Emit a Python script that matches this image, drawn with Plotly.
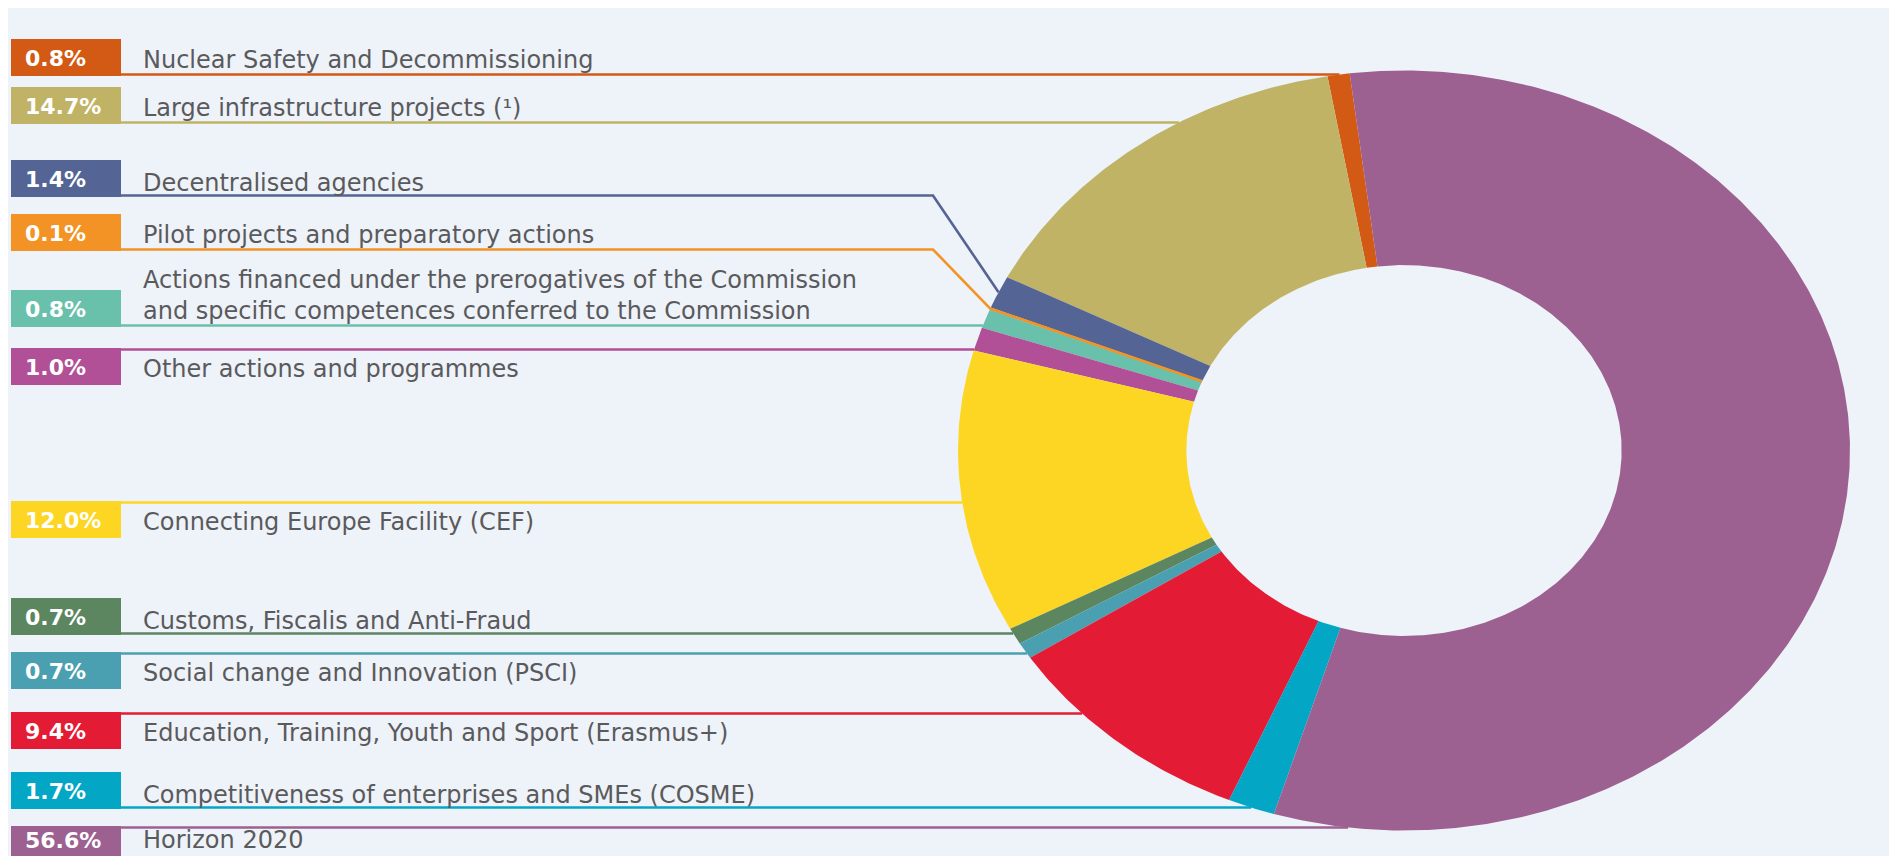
import numpy as np
import plotly.graph_objects as go

# ---------------- data ----------------
categories = [
    "Nuclear Safety and Decommissioning",
    "Large infrastructure projects (¹)",
    "Decentralised agencies",
    "Pilot projects and preparatory actions",
    "Actions financed under the prerogatives of the Commission<br>and specific competences conferred to the Commission",
    "Other actions and programmes",
    "Connecting Europe Facility (CEF)",
    "Customs, Fiscalis and Anti-Fraud",
    "Social change and Innovation (PSCI)",
    "Education, Training, Youth and Sport (Erasmus+)",
    "Competitiveness of enterprises and SMEs (COSME)",
    "Horizon 2020",
]
shares = [0.8, 14.7, 1.4, 0.1, 0.8, 1.0, 12.0, 0.7, 0.7, 9.4, 1.7, 56.6]
pct_labels = ["0.8%", "14.7%", "1.4%", "0.1%", "0.8%", "1.0%",
              "12.0%", "0.7%", "0.7%", "9.4%", "1.7%", "56.6%"]

# ---------------- styles / layout ----------------
colors = ["#d35a15", "#c1b366", "#546494", "#f39325", "#69c0ab", "#b14f97",
          "#fdd623", "#5b8660", "#4aa0b1", "#e31b34", "#04a6c6", "#9c6191"]
BG = "#eef2f9"
TEXT = "#5a5a5c"
FONT = "DejaVu Sans"

# label rows (pixel positions in the page)
box_top = [39, 87, 160, 214, 290, 348, 501, 598, 652, 712, 772, 826]
box_h = 37
line_at_top = [False, False, False, False, False, True, True, False, True, True, False, True]
text_dy = [2, 2, 4, 2, -13, 2, 2, 4, 2, 2, 4, -5]
pct_dy = [1, 1, 1, 1, 1, 1, 1, 1, 1, 1, 1, -4]
BOX_X0, BOX_X1 = 11, 121
PCT_X = 23
TEXT_X = 141
ELBOW_X = 933

# donut geometry (page pixels)
CX, CY, RX, RY = 1404, 450.5, 446, 380
HOLE = 0.488
START = 7.0  # degrees counter-clockwise from 12 o'clock

W, H = 1881, 848
X0, Y0 = 8, 8

fig = go.Figure()


def pt(theta_deg, r):
    t = np.radians(theta_deg)
    return CX - np.sin(t) * RX * r, CY - np.cos(t) * RY * r


vals = np.array(shares, dtype=float)
fr = vals / vals.sum() * 360.0
edges = START + np.concatenate([[0], np.cumsum(fr)])

# slices
for i in range(len(vals)):
    a0, a1 = edges[i], edges[i + 1]
    n = max(3, int((a1 - a0) * 2))
    th = np.linspace(a0, a1, n)
    ox, oy = pt(th, 1.0)
    ix, iy = pt(th[::-1], HOLE)
    xs = np.concatenate([ox, ix, ox[:1]])
    ys = np.concatenate([oy, iy, oy[:1]])
    fig.add_trace(go.Scatter(x=xs, y=ys, mode="lines", fill="toself",
                             fillcolor=colors[i], line=dict(width=0, color=colors[i]),
                             hoverinfo="text", text=pct_labels[i], showlegend=False))

# leader lines, boxes, labels
shapes = [dict(type="rect", xref="paper", yref="paper", x0=0, x1=1, y0=0, y1=1,
               fillcolor=BG, line=dict(width=0), layer="below")]
annotations = []
for i in range(len(vals)):
    top = box_top[i]
    bot = top + box_h
    ly = top + 1.5 if line_at_top[i] else bot - 1.5
    a0, a1 = edges[i], edges[i + 1]
    xs = [BOX_X1]
    ys = [ly]
    c = (CY - ly) / RY
    hit = None
    if -1 <= c <= 1:
        th_hit = np.degrees(np.arccos(c))  # left side of the ring
        for t in (th_hit, th_hit + 360):
            if a0 <= t <= a1:
                hit = t
    if hit is not None:
        ex, _ = pt(hit, 1.0)
        xs.append(ex)
        ys.append(ly)
    else:
        mid = (a0 + a1) / 2
        mx, my = pt(mid, 1.0)
        xs += [ELBOW_X, mx]
        ys += [ly, my]
        if a1 - a0 < 1.0:
            ix, iy = pt(mid, HOLE)
            xs.append(ix)
            ys.append(iy)
    fig.add_trace(go.Scatter(x=xs, y=ys, mode="lines",
                             line=dict(color=colors[i], width=2.6),
                             hoverinfo="skip", showlegend=False))

    shapes.append(dict(type="rect", xref="x", yref="y", x0=BOX_X0, x1=BOX_X1,
                       y0=top, y1=bot, fillcolor=colors[i], line=dict(width=0)))
    annotations.append(dict(x=PCT_X, y=(top + bot) / 2 + pct_dy[i], xref="x", yref="y",
                            text=pct_labels[i], showarrow=False, xanchor="left",
                            yanchor="middle",
                            font=dict(family=FONT, size=22, color="white", weight="bold")))
    annotations.append(dict(x=TEXT_X, y=(top + bot) / 2 + text_dy[i], xref="x", yref="y",
                            text=categories[i], showarrow=False, xanchor="left",
                            yanchor="middle", align="left",
                            font=dict(family=FONT, size=24, color=TEXT)))

fig.update_layout(
    width=W, height=H,
    margin=dict(l=0, r=0, t=0, b=0),
    paper_bgcolor=BG, plot_bgcolor=BG,
    xaxis=dict(range=[X0, X0 + W], visible=False, fixedrange=True),
    yaxis=dict(range=[Y0 + H, Y0], visible=False, fixedrange=True),
    shapes=shapes, annotations=annotations,
    showlegend=False,
)

fig.write_html("out.html")
